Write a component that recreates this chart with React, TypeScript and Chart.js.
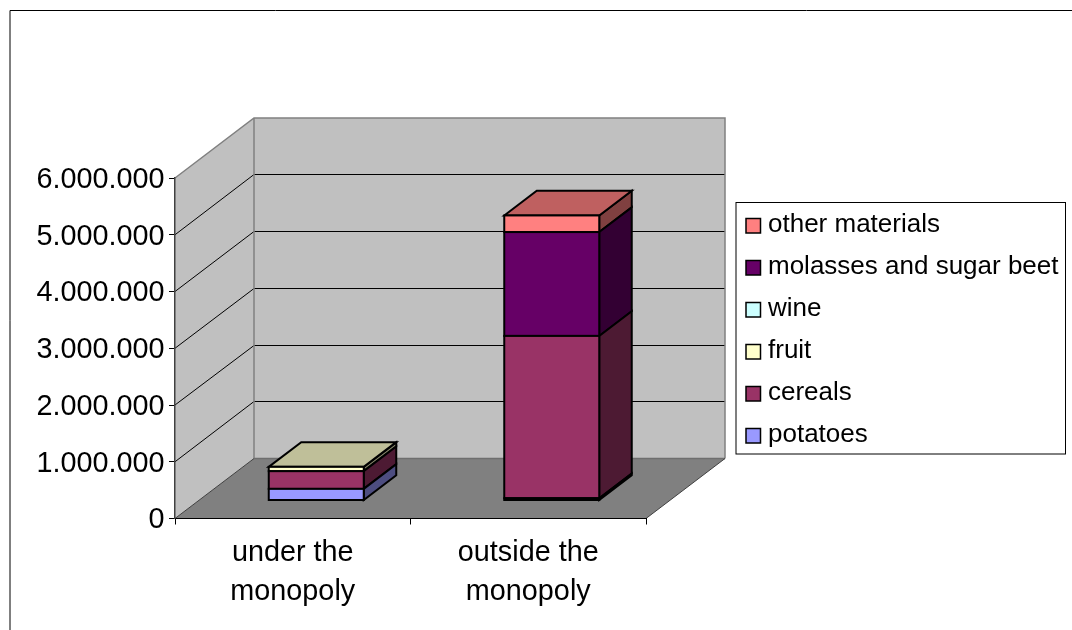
import React, { useEffect, useRef } from "react";
import { Chart, registerables } from "chart.js";

Chart.register(...registerables);

const categories = [["under the", "monopoly"], ["outside the", "monopoly"]];
const seriesNames = ["potatoes", "cereals", "fruit", "wine", "molasses and sugar beet", "other materials"];
const potatoes = [205000, 40000];
const cereals = [312000, 2860000];
const fruit = [76000, 0];
const wine = [0, 0];
const molasses = [0, 1830000];
const otherMaterials = [0, 293000];
const seriesValues = [potatoes, cereals, fruit, wine, molasses, otherMaterials];
const seriesColors = ["#9999FF", "#993366", "#FFFFCC", "#CCFFFF", "#660066", "#FF8080"];

const FONT = '"Liberation Sans", Arial, sans-serif';
const WALL = { dx: 79, dy: -60 };
const BAR_OFFSET = { dx: 23.5, dy: -18 };
const BAR_DEPTH = { dx: 32.5, dy: -24.7 };

function shade(hex: string, f: number) {
  const n = parseInt(hex.slice(1), 16);
  const c = [(n >> 16) & 255, (n >> 8) & 255, n & 255].map((v) => Math.round(v * f));
  return `rgb(${c[0]},${c[1]},${c[2]})`;
}

function poly(ctx: CanvasRenderingContext2D, pts: number[][], fill?: string, stroke?: string, lw = 1) {
  ctx.beginPath();
  pts.forEach((p, i) => (i ? ctx.lineTo(p[0], p[1]) : ctx.moveTo(p[0], p[1])));
  ctx.closePath();
  if (fill) {
    ctx.fillStyle = fill;
    ctx.fill();
  }
  if (stroke) {
    ctx.strokeStyle = stroke;
    ctx.lineWidth = lw;
    ctx.stroke();
  }
}

function barBox(el: any) {
  const { x, y, base, width } = el.getProps(["x", "y", "base", "width"], true);
  return {
    left: x - width / 2 + BAR_OFFSET.dx,
    right: x + width / 2 + BAR_OFFSET.dx,
    top: y + BAR_OFFSET.dy,
    bottom: base + BAR_OFFSET.dy,
  };
}

const scene3d = {
  id: "scene3d",
  beforeDraw(chart: any) {
    const { ctx, chartArea: a, scales } = chart;
    const { dx, dy } = WALL;
    ctx.save();
    ctx.fillStyle = "#FFFFFF";
    ctx.fillRect(0, 0, chart.width, chart.height);
    // outer chart frame
    ctx.strokeStyle = "#000000";
    ctx.lineWidth = 1;
    ctx.beginPath();
    ctx.moveTo(10, 630);
    ctx.lineTo(10, 10.5);
    ctx.lineTo(1072, 10.5);
    ctx.stroke();
    // walls and floor
    poly(ctx, [[a.left, a.top], [a.left + dx, a.top + dy], [a.left + dx, a.bottom + dy], [a.left, a.bottom]], "#C0C0C0");
    poly(ctx, [[a.left + dx, a.top + dy], [a.right + dx, a.top + dy], [a.right + dx, a.bottom + dy], [a.left + dx, a.bottom + dy]], "#C0C0C0");
    poly(ctx, [[a.left, a.bottom], [a.left + dx, a.bottom + dy], [a.right + dx, a.bottom + dy], [a.right, a.bottom]], "#808080");
    // gridlines on the walls
    ctx.strokeStyle = "#000000";
    ctx.lineWidth = 1;
    scales.y.ticks.forEach((t: any) => {
      if (t.value === 0 || t.value === scales.y.max) return;
      const y = scales.y.getPixelForValue(t.value);
      const back = Math.floor(y + dy) + 0.5;
      ctx.beginPath();
      ctx.moveTo(a.left, y);
      ctx.lineTo(a.left + dx, back);
      ctx.lineTo(a.right + dx, back);
      ctx.stroke();
    });
    // wall edges
    ctx.strokeStyle = "#808080";
    ctx.lineWidth = 1.5;
    ctx.beginPath();
    ctx.moveTo(a.left, a.top);
    ctx.lineTo(a.left + dx, a.top + dy);
    ctx.lineTo(a.right + dx, a.top + dy);
    ctx.lineTo(a.right + dx, a.bottom + dy);
    ctx.moveTo(a.left + dx, a.top + dy);
    ctx.lineTo(a.left + dx, a.bottom + dy);
    ctx.stroke();
    ctx.strokeStyle = "#6E6E6E";
    ctx.beginPath();
    ctx.moveTo(a.left + dx, a.bottom + dy);
    ctx.lineTo(a.right + dx, a.bottom + dy);
    ctx.stroke();
    ctx.strokeStyle = "#404040";
    ctx.lineWidth = 1;
    ctx.beginPath();
    ctx.moveTo(a.right + dx, a.bottom + dy);
    ctx.lineTo(a.right, a.bottom);
    ctx.moveTo(a.left, a.bottom);
    ctx.lineTo(a.left + dx, a.bottom + dy);
    ctx.stroke();
    ctx.restore();
  },
  beforeDatasetDraw(chart: any, args: any) {
    const { ctx } = chart;
    const i = args.index;
    const color = seriesColors[i];
    const { dx, dy } = BAR_DEPTH;
    ctx.save();
    ctx.lineJoin = "miter";
    args.meta.data.forEach((el: any, c: number) => {
      if (!seriesValues[i][c]) return;
      const b = barBox(el);
      poly(ctx, [[b.right, b.top], [b.right + dx, b.top + dy], [b.right + dx, b.bottom + dy], [b.right, b.bottom]], shade(color, 0.5), "#000000", 2);
      const isTop = seriesValues.slice(i + 1).every((s) => !s[c]);
      if (isTop) {
        poly(ctx, [[b.left, b.top], [b.left + dx, b.top + dy], [b.right + dx, b.top + dy], [b.right, b.top]], shade(color, 0.75), "#000000", 2);
      }
    });
    ctx.restore();
    ctx.save();
    ctx.translate(BAR_OFFSET.dx, BAR_OFFSET.dy);
  },
  afterDatasetDraw(chart: any, args: any) {
    const { ctx } = chart;
    ctx.restore();
    ctx.save();
    args.meta.data.forEach((el: any, c: number) => {
      if (!seriesValues[args.index][c]) return;
      const b = barBox(el);
      ctx.strokeStyle = "#000000";
      ctx.lineWidth = 2;
      ctx.strokeRect(b.left, b.top, b.right - b.left, b.bottom - b.top);
    });
    ctx.restore();
  },
  afterDraw(chart: any) {
    const { ctx } = chart;
    ctx.save();
    ctx.fillStyle = "#FFFFFF";
    ctx.strokeStyle = "#000000";
    ctx.lineWidth = 1;
    ctx.fillRect(736, 202.5, 329.5, 251.5);
    ctx.strokeRect(736, 202.5, 329.5, 251.5);
    ctx.font = `26px ${FONT}`;
    ctx.textBaseline = "alphabetic";
    ctx.textAlign = "left";
    const names = chart.data.datasets.map((d: any) => d.label).reverse();
    const cols = chart.data.datasets.map((d: any) => d.backgroundColor).reverse();
    names.forEach((name: string, i: number) => {
      const y = 218.5 + 42 * i;
      ctx.fillStyle = cols[i];
      ctx.fillRect(746, y, 14.5, 14.5);
      ctx.lineWidth = 1.5;
      ctx.strokeRect(746, y, 14.5, 14.5);
      ctx.fillStyle = "#000000";
      ctx.fillText(name, 768, 232 + 42 * i);
    });
    ctx.restore();
  },
};

export default function App() {
  const ref = useRef<HTMLCanvasElement>(null);
  useEffect(() => {
    document.body.style.margin = "0";
    const chart = new Chart(ref.current as HTMLCanvasElement, {
      type: "bar",
      data: {
        labels: categories as any,
        datasets: seriesNames.map((label, i) => ({
          label,
          data: seriesValues[i],
          backgroundColor: seriesColors[i],
          borderWidth: 0,
          inflateAmount: 0,
          barThickness: 95,
          clip: false as any,
        })),
      },
      options: {
        responsive: false,
        animation: false,
        events: [],
        layout: { padding: { left: 0, top: 178, right: 426, bottom: 0 } },
        plugins: { legend: { display: false }, title: { display: false }, tooltip: { enabled: false } },
        scales: {
          x: {
            stacked: true,
            afterFit: (s: any) => {
              s.height = 111.5;
            },
            grid: { drawOnChartArea: false, tickLength: 6, tickColor: "#000000", tickWidth: 1 },
            border: { color: "#000000", width: 1 },
            ticks: {
              color: "#000000",
              autoSkip: false,
              maxRotation: 0,
              minRotation: 0,
              padding: 8.5,
              font: { family: FONT, size: 28.8, lineHeight: 1.36 },
            },
          },
          y: {
            stacked: true,
            min: 0,
            max: 6000000,
            afterFit: (s: any) => {
              s.width = 175;
            },
            grid: { drawOnChartArea: false, tickLength: 6, tickColor: "#000000", tickWidth: 1 },
            border: { color: "#404040", width: 1.5 },
            ticks: {
              color: "#000000",
              stepSize: 1000000,
              padding: 4.5,
              labelOffset: 2,
              font: { family: FONT, size: 28.8 },
              callback: (v: any) => String(v).replace(/\B(?=(\d{3})+$)/g, "."),
            },
          },
        },
      },
      plugins: [scene3d],
    });
    return () => chart.destroy();
  }, []);
  return <canvas ref={ref} width={1072} height={630} style={{ display: "block", width: 1072, height: 630 }} />;
}
